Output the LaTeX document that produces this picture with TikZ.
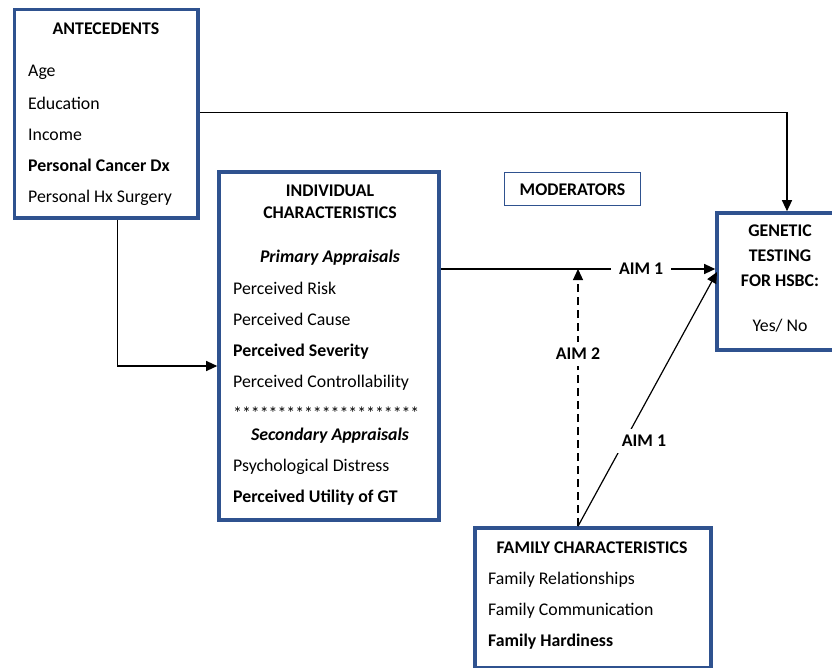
\documentclass[tikz,border=0pt]{standalone}
\usepackage{fontspec}
\setmainfont{Carlito}
\usetikzlibrary{arrows.meta,calc}
\definecolor{boxblue}{RGB}{47,82,143}
\newcommand{\fs}{\fontsize{17.8}{21}\selectfont}
\tikzset{
  bigbox/.style={draw=boxblue,line width=3.6pt,fill=white,inner sep=0pt},
  thinbox/.style={draw=boxblue,line width=1.1pt,inner sep=0pt},
  txt/.style={anchor=west,inner sep=0pt,yshift=-1.8pt,font=\fs},
  btxt/.style={anchor=west,inner sep=0pt,yshift=-1.8pt,font=\fs\bfseries},
  ctxt/.style={inner sep=0pt,yshift=-1.2pt,font=\fs\bfseries},
  ittxt/.style={inner sep=0pt,yshift=-1.5pt,font=\fs\bfseries\itshape},
  conn/.style={line width=1.2pt,-{Triangle[length=11pt,width=10pt]}},
  lbl/.style={fill=white,inner xsep=8pt,inner ysep=6pt,font=\fs\bfseries}
}
\begin{document}
\begin{tikzpicture}[x=1pt,y=-1pt]
\useasboundingbox (0,0) rectangle (832,668);
% boxes
\node[bigbox,minimum width=183.5pt,minimum height=208.5pt] (ante) at (106.25,113.75) {};
\node[bigbox,minimum width=220pt,minimum height=348pt] (indiv) at (329,346) {};
\node[bigbox,minimum width=140pt,minimum height=137pt] (gt) at (787,281.5) {};
\node[bigbox,minimum width=236pt,minimum height=140pt] (fam) at (593,598) {};
\node[thinbox,minimum width=136pt,minimum height=33pt] (mod) at (572.5,189) {};
% antecedents text
\node[ctxt] (t1) at (106,28) {ANTECEDENTS};
\node[txt] (a1) at (28,71) {Age};
\node[txt] (a2) at (28,102) {Education};
\node[txt] (a3) at (28,133) {Income};
\node[btxt] (a4) at (28,164) {Personal Cancer Dx};
\node[txt] (a5) at (28,196) {Personal Hx Surgery};
% individual text
\node[ctxt] (t2) at (330,190) {INDIVIDUAL};
\node[ctxt] (t3) at (330,212) {CHARACTERISTICS};
\node[ittxt] (p1) at (330,256) {Primary Appraisals};
\node[txt] (i1) at (233,287) {Perceived Risk};
\node[txt] (i2) at (233,318) {Perceived Cause};
\node[btxt] (i3) at (233,350) {Perceived Severity};
\node[txt] (i4) at (233,381) {Perceived Controllability};
\node[txt] (i5) at (233,411) {*********************};
\node[ittxt] (p2) at (330,434) {Secondary Appraisals};
\node[txt] (i6) at (233,465) {Psychological Distress};
\node[btxt] (i7) at (233,496) {Perceived Utility of GT};
% genetic testing text
\node[ctxt] (g1) at (780,230) {GENETIC};
\node[ctxt] (g2) at (780,255) {TESTING};
\node[ctxt] (g3) at (780,280) {FOR HSBC:};
\node[inner sep=0pt,yshift=-1.2pt,font=\fs] (g4) at (780,324) {Yes/ No};
% moderators
\node[ctxt] (m1) at (mod) {MODERATORS};
% family text
\node[ctxt] (t4) at (592,547) {FAMILY CHARACTERISTICS};
\node[txt] (f1) at (488,578) {Family Relationships};
\node[txt] (f2) at (488,609) {Family Communication};
\node[btxt] (f3) at (488,640) {Family Hardiness};
% connectors
\coordinate (m) at (578,269);
\coordinate (gin) at (717,272);
\draw[conn] ($(ante.east)+(0,-1.5)$) -| (gt.north);
\draw[conn] ($(ante.south)+(11,0)$) |- ($(indiv.west)+(0,20)$);
\draw[conn] (indiv.east |- m) -- (gt.west |- m) node[lbl,pos=0.73] {AIM 1};
\draw[conn,dash pattern=on 8pt off 5pt] (m |- fam.north) -- (m) node[lbl,pos=0.67] {AIM 2};
\draw[conn] (m |- fam.north) -- (gin);
\node[lbl] (aim1b) at (644,441) {AIM 1};
\end{tikzpicture}
\end{document}
